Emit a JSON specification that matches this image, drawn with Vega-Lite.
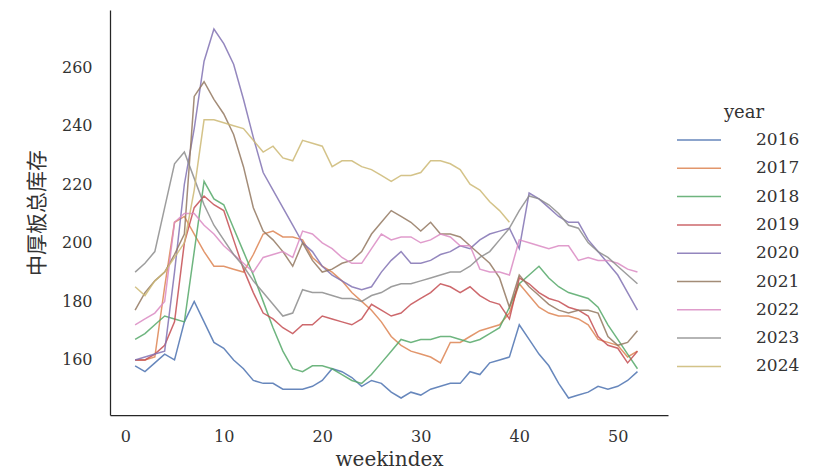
{
  "$schema": "https://vega.github.io/schema/vega-lite/v6.json",
  "width": 558,
  "height": 405,
  "autosize": {"type": "none"},
  "padding": {"left": 110, "top": 10, "right": 148, "bottom": 55},
  "background": "white",
  "config": {
    "view": {"stroke": null},
    "font": "DejaVu Serif",
    "axis": {
      "grid": false,
      "ticks": false,
      "domainColor": "#262626",
      "domainWidth": 1.25,
      "labelFont": "DejaVu Serif",
      "labelFontSize": 16,
      "labelColor": "#333333",
      "titleColor": "#333333",
      "titleFontWeight": "normal"
    },
    "legend": {
      "labelFont": "DejaVu Serif",
      "labelFontSize": 17,
      "labelColor": "#333333",
      "titleFont": "DejaVu Serif",
      "titleFontSize": 18,
      "titleFontWeight": "normal",
      "titleColor": "#333333"
    }
  },
  "data": {
    "values": [
      {"year":"2016","weekindex":1,"stock":158},{"year":"2016","weekindex":2,"stock":156},{"year":"2016","weekindex":3,"stock":159},{"year":"2016","weekindex":4,"stock":162},{"year":"2016","weekindex":5,"stock":160},{"year":"2016","weekindex":6,"stock":173},{"year":"2016","weekindex":7,"stock":180},{"year":"2016","weekindex":8,"stock":173},{"year":"2016","weekindex":9,"stock":166},{"year":"2016","weekindex":10,"stock":164},{"year":"2016","weekindex":11,"stock":160},{"year":"2016","weekindex":12,"stock":157},{"year":"2016","weekindex":13,"stock":153},{"year":"2016","weekindex":14,"stock":152},{"year":"2016","weekindex":15,"stock":152},{"year":"2016","weekindex":16,"stock":150},{"year":"2016","weekindex":17,"stock":150},{"year":"2016","weekindex":18,"stock":150},{"year":"2016","weekindex":19,"stock":151},{"year":"2016","weekindex":20,"stock":153},{"year":"2016","weekindex":21,"stock":157},{"year":"2016","weekindex":22,"stock":156},{"year":"2016","weekindex":23,"stock":154},{"year":"2016","weekindex":24,"stock":151},{"year":"2016","weekindex":25,"stock":153},{"year":"2016","weekindex":26,"stock":152},{"year":"2016","weekindex":27,"stock":149},{"year":"2016","weekindex":28,"stock":147},{"year":"2016","weekindex":29,"stock":149},{"year":"2016","weekindex":30,"stock":148},{"year":"2016","weekindex":31,"stock":150},{"year":"2016","weekindex":32,"stock":151},{"year":"2016","weekindex":33,"stock":152},{"year":"2016","weekindex":34,"stock":152},{"year":"2016","weekindex":35,"stock":156},{"year":"2016","weekindex":36,"stock":155},{"year":"2016","weekindex":37,"stock":159},{"year":"2016","weekindex":38,"stock":160},{"year":"2016","weekindex":39,"stock":161},{"year":"2016","weekindex":40,"stock":172},{"year":"2016","weekindex":41,"stock":167},{"year":"2016","weekindex":42,"stock":162},{"year":"2016","weekindex":43,"stock":158},{"year":"2016","weekindex":44,"stock":152},{"year":"2016","weekindex":45,"stock":147},{"year":"2016","weekindex":46,"stock":148},{"year":"2016","weekindex":47,"stock":149},{"year":"2016","weekindex":48,"stock":151},{"year":"2016","weekindex":49,"stock":150},{"year":"2016","weekindex":50,"stock":151},{"year":"2016","weekindex":51,"stock":153},{"year":"2016","weekindex":52,"stock":156},

      {"year":"2017","weekindex":1,"stock":160},{"year":"2017","weekindex":2,"stock":160},{"year":"2017","weekindex":3,"stock":161},{"year":"2017","weekindex":4,"stock":185},{"year":"2017","weekindex":5,"stock":207},{"year":"2017","weekindex":6,"stock":209},{"year":"2017","weekindex":7,"stock":203},{"year":"2017","weekindex":8,"stock":197},{"year":"2017","weekindex":9,"stock":192},{"year":"2017","weekindex":10,"stock":192},{"year":"2017","weekindex":11,"stock":191},{"year":"2017","weekindex":12,"stock":190},{"year":"2017","weekindex":13,"stock":196},{"year":"2017","weekindex":14,"stock":203},{"year":"2017","weekindex":15,"stock":204},{"year":"2017","weekindex":16,"stock":202},{"year":"2017","weekindex":17,"stock":202},{"year":"2017","weekindex":18,"stock":201},{"year":"2017","weekindex":19,"stock":195},{"year":"2017","weekindex":20,"stock":192},{"year":"2017","weekindex":21,"stock":190},{"year":"2017","weekindex":22,"stock":187},{"year":"2017","weekindex":23,"stock":183},{"year":"2017","weekindex":24,"stock":180},{"year":"2017","weekindex":25,"stock":177},{"year":"2017","weekindex":26,"stock":173},{"year":"2017","weekindex":27,"stock":168},{"year":"2017","weekindex":28,"stock":165},{"year":"2017","weekindex":29,"stock":163},{"year":"2017","weekindex":30,"stock":162},{"year":"2017","weekindex":31,"stock":161},{"year":"2017","weekindex":32,"stock":159},{"year":"2017","weekindex":33,"stock":166},{"year":"2017","weekindex":34,"stock":166},{"year":"2017","weekindex":35,"stock":168},{"year":"2017","weekindex":36,"stock":170},{"year":"2017","weekindex":37,"stock":171},{"year":"2017","weekindex":38,"stock":172},{"year":"2017","weekindex":39,"stock":176},{"year":"2017","weekindex":40,"stock":186},{"year":"2017","weekindex":41,"stock":182},{"year":"2017","weekindex":42,"stock":178},{"year":"2017","weekindex":43,"stock":176},{"year":"2017","weekindex":44,"stock":175},{"year":"2017","weekindex":45,"stock":175},{"year":"2017","weekindex":46,"stock":174},{"year":"2017","weekindex":47,"stock":172},{"year":"2017","weekindex":48,"stock":167},{"year":"2017","weekindex":49,"stock":166},{"year":"2017","weekindex":50,"stock":165},{"year":"2017","weekindex":51,"stock":161},{"year":"2017","weekindex":52,"stock":163},

      {"year":"2018","weekindex":1,"stock":167},{"year":"2018","weekindex":2,"stock":169},{"year":"2018","weekindex":3,"stock":172},{"year":"2018","weekindex":4,"stock":175},{"year":"2018","weekindex":5,"stock":174},{"year":"2018","weekindex":6,"stock":173},{"year":"2018","weekindex":7,"stock":197},{"year":"2018","weekindex":8,"stock":221},{"year":"2018","weekindex":9,"stock":215},{"year":"2018","weekindex":10,"stock":213},{"year":"2018","weekindex":11,"stock":205},{"year":"2018","weekindex":12,"stock":197},{"year":"2018","weekindex":13,"stock":189},{"year":"2018","weekindex":14,"stock":180},{"year":"2018","weekindex":15,"stock":171},{"year":"2018","weekindex":16,"stock":163},{"year":"2018","weekindex":17,"stock":157},{"year":"2018","weekindex":18,"stock":156},{"year":"2018","weekindex":19,"stock":158},{"year":"2018","weekindex":20,"stock":158},{"year":"2018","weekindex":21,"stock":157},{"year":"2018","weekindex":22,"stock":155},{"year":"2018","weekindex":23,"stock":153},{"year":"2018","weekindex":24,"stock":152},{"year":"2018","weekindex":25,"stock":155},{"year":"2018","weekindex":26,"stock":159},{"year":"2018","weekindex":27,"stock":163},{"year":"2018","weekindex":28,"stock":167},{"year":"2018","weekindex":29,"stock":166},{"year":"2018","weekindex":30,"stock":167},{"year":"2018","weekindex":31,"stock":167},{"year":"2018","weekindex":32,"stock":168},{"year":"2018","weekindex":33,"stock":168},{"year":"2018","weekindex":34,"stock":167},{"year":"2018","weekindex":35,"stock":166},{"year":"2018","weekindex":36,"stock":167},{"year":"2018","weekindex":37,"stock":169},{"year":"2018","weekindex":38,"stock":171},{"year":"2018","weekindex":39,"stock":178},{"year":"2018","weekindex":40,"stock":186},{"year":"2018","weekindex":41,"stock":189},{"year":"2018","weekindex":42,"stock":192},{"year":"2018","weekindex":43,"stock":188},{"year":"2018","weekindex":44,"stock":185},{"year":"2018","weekindex":45,"stock":183},{"year":"2018","weekindex":46,"stock":182},{"year":"2018","weekindex":47,"stock":181},{"year":"2018","weekindex":48,"stock":178},{"year":"2018","weekindex":49,"stock":172},{"year":"2018","weekindex":50,"stock":167},{"year":"2018","weekindex":51,"stock":162},{"year":"2018","weekindex":52,"stock":157},

      {"year":"2019","weekindex":1,"stock":160},{"year":"2019","weekindex":2,"stock":160},{"year":"2019","weekindex":3,"stock":162},{"year":"2019","weekindex":4,"stock":165},{"year":"2019","weekindex":5,"stock":173},{"year":"2019","weekindex":6,"stock":200},{"year":"2019","weekindex":7,"stock":212},{"year":"2019","weekindex":8,"stock":216},{"year":"2019","weekindex":9,"stock":213},{"year":"2019","weekindex":10,"stock":211},{"year":"2019","weekindex":11,"stock":201},{"year":"2019","weekindex":12,"stock":191},{"year":"2019","weekindex":13,"stock":183},{"year":"2019","weekindex":14,"stock":176},{"year":"2019","weekindex":15,"stock":174},{"year":"2019","weekindex":16,"stock":171},{"year":"2019","weekindex":17,"stock":169},{"year":"2019","weekindex":18,"stock":172},{"year":"2019","weekindex":19,"stock":172},{"year":"2019","weekindex":20,"stock":175},{"year":"2019","weekindex":21,"stock":174},{"year":"2019","weekindex":22,"stock":173},{"year":"2019","weekindex":23,"stock":172},{"year":"2019","weekindex":24,"stock":174},{"year":"2019","weekindex":25,"stock":179},{"year":"2019","weekindex":26,"stock":177},{"year":"2019","weekindex":27,"stock":175},{"year":"2019","weekindex":28,"stock":176},{"year":"2019","weekindex":29,"stock":179},{"year":"2019","weekindex":30,"stock":181},{"year":"2019","weekindex":31,"stock":183},{"year":"2019","weekindex":32,"stock":186},{"year":"2019","weekindex":33,"stock":185},{"year":"2019","weekindex":34,"stock":183},{"year":"2019","weekindex":35,"stock":185},{"year":"2019","weekindex":36,"stock":182},{"year":"2019","weekindex":37,"stock":180},{"year":"2019","weekindex":38,"stock":179},{"year":"2019","weekindex":39,"stock":174},{"year":"2019","weekindex":40,"stock":188},{"year":"2019","weekindex":41,"stock":186},{"year":"2019","weekindex":42,"stock":183},{"year":"2019","weekindex":43,"stock":181},{"year":"2019","weekindex":44,"stock":180},{"year":"2019","weekindex":45,"stock":178},{"year":"2019","weekindex":46,"stock":177},{"year":"2019","weekindex":47,"stock":175},{"year":"2019","weekindex":48,"stock":168},{"year":"2019","weekindex":49,"stock":165},{"year":"2019","weekindex":50,"stock":164},{"year":"2019","weekindex":51,"stock":159},{"year":"2019","weekindex":52,"stock":163},

      {"year":"2020","weekindex":1,"stock":160},{"year":"2020","weekindex":2,"stock":161},{"year":"2020","weekindex":3,"stock":162},{"year":"2020","weekindex":4,"stock":163},{"year":"2020","weekindex":5,"stock":190},{"year":"2020","weekindex":6,"stock":220},{"year":"2020","weekindex":7,"stock":239},{"year":"2020","weekindex":8,"stock":262},{"year":"2020","weekindex":9,"stock":273},{"year":"2020","weekindex":10,"stock":268},{"year":"2020","weekindex":11,"stock":261},{"year":"2020","weekindex":12,"stock":249},{"year":"2020","weekindex":13,"stock":236},{"year":"2020","weekindex":14,"stock":224},{"year":"2020","weekindex":15,"stock":218},{"year":"2020","weekindex":16,"stock":212},{"year":"2020","weekindex":17,"stock":206},{"year":"2020","weekindex":18,"stock":200},{"year":"2020","weekindex":19,"stock":197},{"year":"2020","weekindex":20,"stock":192},{"year":"2020","weekindex":21,"stock":189},{"year":"2020","weekindex":22,"stock":187},{"year":"2020","weekindex":23,"stock":185},{"year":"2020","weekindex":24,"stock":184},{"year":"2020","weekindex":25,"stock":185},{"year":"2020","weekindex":26,"stock":190},{"year":"2020","weekindex":27,"stock":194},{"year":"2020","weekindex":28,"stock":197},{"year":"2020","weekindex":29,"stock":193},{"year":"2020","weekindex":30,"stock":193},{"year":"2020","weekindex":31,"stock":194},{"year":"2020","weekindex":32,"stock":196},{"year":"2020","weekindex":33,"stock":197},{"year":"2020","weekindex":34,"stock":199},{"year":"2020","weekindex":35,"stock":198},{"year":"2020","weekindex":36,"stock":201},{"year":"2020","weekindex":37,"stock":203},{"year":"2020","weekindex":38,"stock":204},{"year":"2020","weekindex":39,"stock":205},{"year":"2020","weekindex":40,"stock":198},{"year":"2020","weekindex":41,"stock":217},{"year":"2020","weekindex":42,"stock":215},{"year":"2020","weekindex":43,"stock":212},{"year":"2020","weekindex":44,"stock":209},{"year":"2020","weekindex":45,"stock":207},{"year":"2020","weekindex":46,"stock":207},{"year":"2020","weekindex":47,"stock":201},{"year":"2020","weekindex":48,"stock":197},{"year":"2020","weekindex":49,"stock":193},{"year":"2020","weekindex":50,"stock":189},{"year":"2020","weekindex":51,"stock":183},{"year":"2020","weekindex":52,"stock":177},

      {"year":"2021","weekindex":1,"stock":177},{"year":"2021","weekindex":2,"stock":183},{"year":"2021","weekindex":3,"stock":187},{"year":"2021","weekindex":4,"stock":190},{"year":"2021","weekindex":5,"stock":196},{"year":"2021","weekindex":6,"stock":203},{"year":"2021","weekindex":7,"stock":250},{"year":"2021","weekindex":8,"stock":255},{"year":"2021","weekindex":9,"stock":249},{"year":"2021","weekindex":10,"stock":244},{"year":"2021","weekindex":11,"stock":237},{"year":"2021","weekindex":12,"stock":226},{"year":"2021","weekindex":13,"stock":212},{"year":"2021","weekindex":14,"stock":204},{"year":"2021","weekindex":15,"stock":201},{"year":"2021","weekindex":16,"stock":197},{"year":"2021","weekindex":17,"stock":192},{"year":"2021","weekindex":18,"stock":200},{"year":"2021","weekindex":19,"stock":194},{"year":"2021","weekindex":20,"stock":190},{"year":"2021","weekindex":21,"stock":191},{"year":"2021","weekindex":22,"stock":193},{"year":"2021","weekindex":23,"stock":194},{"year":"2021","weekindex":24,"stock":197},{"year":"2021","weekindex":25,"stock":203},{"year":"2021","weekindex":26,"stock":207},{"year":"2021","weekindex":27,"stock":211},{"year":"2021","weekindex":28,"stock":209},{"year":"2021","weekindex":29,"stock":207},{"year":"2021","weekindex":30,"stock":204},{"year":"2021","weekindex":31,"stock":207},{"year":"2021","weekindex":32,"stock":203},{"year":"2021","weekindex":33,"stock":203},{"year":"2021","weekindex":34,"stock":202},{"year":"2021","weekindex":35,"stock":199},{"year":"2021","weekindex":36,"stock":196},{"year":"2021","weekindex":37,"stock":193},{"year":"2021","weekindex":38,"stock":188},{"year":"2021","weekindex":39,"stock":178},{"year":"2021","weekindex":40,"stock":189},{"year":"2021","weekindex":41,"stock":185},{"year":"2021","weekindex":42,"stock":182},{"year":"2021","weekindex":43,"stock":179},{"year":"2021","weekindex":44,"stock":177},{"year":"2021","weekindex":45,"stock":176},{"year":"2021","weekindex":46,"stock":177},{"year":"2021","weekindex":47,"stock":177},{"year":"2021","weekindex":48,"stock":176},{"year":"2021","weekindex":49,"stock":168},{"year":"2021","weekindex":50,"stock":165},{"year":"2021","weekindex":51,"stock":166},{"year":"2021","weekindex":52,"stock":170},

      {"year":"2022","weekindex":1,"stock":172},{"year":"2022","weekindex":2,"stock":174},{"year":"2022","weekindex":3,"stock":176},{"year":"2022","weekindex":4,"stock":180},{"year":"2022","weekindex":5,"stock":207},{"year":"2022","weekindex":6,"stock":210},{"year":"2022","weekindex":7,"stock":210},{"year":"2022","weekindex":8,"stock":206},{"year":"2022","weekindex":9,"stock":203},{"year":"2022","weekindex":10,"stock":199},{"year":"2022","weekindex":11,"stock":196},{"year":"2022","weekindex":12,"stock":193},{"year":"2022","weekindex":13,"stock":190},{"year":"2022","weekindex":14,"stock":195},{"year":"2022","weekindex":15,"stock":196},{"year":"2022","weekindex":16,"stock":197},{"year":"2022","weekindex":17,"stock":195},{"year":"2022","weekindex":18,"stock":204},{"year":"2022","weekindex":19,"stock":203},{"year":"2022","weekindex":20,"stock":200},{"year":"2022","weekindex":21,"stock":198},{"year":"2022","weekindex":22,"stock":195},{"year":"2022","weekindex":23,"stock":193},{"year":"2022","weekindex":24,"stock":193},{"year":"2022","weekindex":25,"stock":198},{"year":"2022","weekindex":26,"stock":203},{"year":"2022","weekindex":27,"stock":201},{"year":"2022","weekindex":28,"stock":202},{"year":"2022","weekindex":29,"stock":202},{"year":"2022","weekindex":30,"stock":200},{"year":"2022","weekindex":31,"stock":201},{"year":"2022","weekindex":32,"stock":203},{"year":"2022","weekindex":33,"stock":202},{"year":"2022","weekindex":34,"stock":199},{"year":"2022","weekindex":35,"stock":199},{"year":"2022","weekindex":36,"stock":191},{"year":"2022","weekindex":37,"stock":190},{"year":"2022","weekindex":38,"stock":190},{"year":"2022","weekindex":39,"stock":189},{"year":"2022","weekindex":40,"stock":201},{"year":"2022","weekindex":41,"stock":200},{"year":"2022","weekindex":42,"stock":199},{"year":"2022","weekindex":43,"stock":198},{"year":"2022","weekindex":44,"stock":199},{"year":"2022","weekindex":45,"stock":199},{"year":"2022","weekindex":46,"stock":194},{"year":"2022","weekindex":47,"stock":195},{"year":"2022","weekindex":48,"stock":194},{"year":"2022","weekindex":49,"stock":194},{"year":"2022","weekindex":50,"stock":193},{"year":"2022","weekindex":51,"stock":191},{"year":"2022","weekindex":52,"stock":190},

      {"year":"2023","weekindex":1,"stock":190},{"year":"2023","weekindex":2,"stock":193},{"year":"2023","weekindex":3,"stock":197},{"year":"2023","weekindex":4,"stock":212},{"year":"2023","weekindex":5,"stock":227},{"year":"2023","weekindex":6,"stock":231},{"year":"2023","weekindex":7,"stock":222},{"year":"2023","weekindex":8,"stock":213},{"year":"2023","weekindex":9,"stock":206},{"year":"2023","weekindex":10,"stock":201},{"year":"2023","weekindex":11,"stock":196},{"year":"2023","weekindex":12,"stock":192},{"year":"2023","weekindex":13,"stock":187},{"year":"2023","weekindex":14,"stock":183},{"year":"2023","weekindex":15,"stock":179},{"year":"2023","weekindex":16,"stock":175},{"year":"2023","weekindex":17,"stock":176},{"year":"2023","weekindex":18,"stock":184},{"year":"2023","weekindex":19,"stock":183},{"year":"2023","weekindex":20,"stock":183},{"year":"2023","weekindex":21,"stock":182},{"year":"2023","weekindex":22,"stock":181},{"year":"2023","weekindex":23,"stock":181},{"year":"2023","weekindex":24,"stock":180},{"year":"2023","weekindex":25,"stock":182},{"year":"2023","weekindex":26,"stock":183},{"year":"2023","weekindex":27,"stock":185},{"year":"2023","weekindex":28,"stock":186},{"year":"2023","weekindex":29,"stock":186},{"year":"2023","weekindex":30,"stock":187},{"year":"2023","weekindex":31,"stock":188},{"year":"2023","weekindex":32,"stock":189},{"year":"2023","weekindex":33,"stock":190},{"year":"2023","weekindex":34,"stock":190},{"year":"2023","weekindex":35,"stock":192},{"year":"2023","weekindex":36,"stock":195},{"year":"2023","weekindex":37,"stock":197},{"year":"2023","weekindex":38,"stock":201},{"year":"2023","weekindex":39,"stock":205},{"year":"2023","weekindex":40,"stock":211},{"year":"2023","weekindex":41,"stock":216},{"year":"2023","weekindex":42,"stock":215},{"year":"2023","weekindex":43,"stock":213},{"year":"2023","weekindex":44,"stock":210},{"year":"2023","weekindex":45,"stock":206},{"year":"2023","weekindex":46,"stock":205},{"year":"2023","weekindex":47,"stock":200},{"year":"2023","weekindex":48,"stock":197},{"year":"2023","weekindex":49,"stock":195},{"year":"2023","weekindex":50,"stock":192},{"year":"2023","weekindex":51,"stock":189},{"year":"2023","weekindex":52,"stock":186},

      {"year":"2024","weekindex":1,"stock":185},{"year":"2024","weekindex":2,"stock":182},{"year":"2024","weekindex":3,"stock":187},{"year":"2024","weekindex":4,"stock":190},{"year":"2024","weekindex":5,"stock":195},{"year":"2024","weekindex":6,"stock":200},{"year":"2024","weekindex":7,"stock":218},{"year":"2024","weekindex":8,"stock":242},{"year":"2024","weekindex":9,"stock":242},{"year":"2024","weekindex":10,"stock":241},{"year":"2024","weekindex":11,"stock":240},{"year":"2024","weekindex":12,"stock":239},{"year":"2024","weekindex":13,"stock":235},{"year":"2024","weekindex":14,"stock":231},{"year":"2024","weekindex":15,"stock":233},{"year":"2024","weekindex":16,"stock":229},{"year":"2024","weekindex":17,"stock":228},{"year":"2024","weekindex":18,"stock":235},{"year":"2024","weekindex":19,"stock":234},{"year":"2024","weekindex":20,"stock":233},{"year":"2024","weekindex":21,"stock":226},{"year":"2024","weekindex":22,"stock":228},{"year":"2024","weekindex":23,"stock":228},{"year":"2024","weekindex":24,"stock":226},{"year":"2024","weekindex":25,"stock":225},{"year":"2024","weekindex":26,"stock":223},{"year":"2024","weekindex":27,"stock":221},{"year":"2024","weekindex":28,"stock":223},{"year":"2024","weekindex":29,"stock":223},{"year":"2024","weekindex":30,"stock":224},{"year":"2024","weekindex":31,"stock":228},{"year":"2024","weekindex":32,"stock":228},{"year":"2024","weekindex":33,"stock":227},{"year":"2024","weekindex":34,"stock":225},{"year":"2024","weekindex":35,"stock":220},{"year":"2024","weekindex":36,"stock":218},{"year":"2024","weekindex":37,"stock":214},{"year":"2024","weekindex":38,"stock":211},{"year":"2024","weekindex":39,"stock":207}
    ]
  },
  "mark": {"type": "line", "strokeWidth": 1.5, "opacity": 0.85},
  "encoding": {
    "x": {
      "field": "weekindex",
      "type": "quantitative",
      "scale": {"domain": [-1.55, 55.1], "nice": false, "zero": false},
      "axis": {"values": [0, 10, 20, 30, 40, 50], "labelPadding": 13, "title": "weekindex", "titleFont": "DejaVu Serif", "titleFontSize": 20, "titlePadding": 5}
    },
    "y": {
      "field": "stock",
      "type": "quantitative",
      "scale": {"domain": [141.2, 279.5], "nice": false, "zero": false},
      "axis": {"values": [160, 180, 200, 220, 240, 260], "labelPadding": 18, "title": "中厚板总库存", "titleFont": "Noto Sans CJK SC", "titleFontSize": 21, "titlePadding": 14}
    },
    "color": {
      "field": "year",
      "type": "nominal",
      "scale": {
        "domain": ["2016", "2017", "2018", "2019", "2020", "2021", "2022", "2023", "2024"],
        "range": ["#4C72B0", "#DD8452", "#55A868", "#C44E52", "#8172B3", "#937860", "#DA8BC3", "#8C8C8C", "#CCB974"]
      },
      "legend": {
        "title": "year",
        "orient": "none",
        "legendX": 578,
        "legendY": 94,
        "titleAnchor": "middle",
        "titlePadding": 7,
        "symbolType": "M-2.2,0H2.2",
        "symbolSize": 400,
        "symbolStrokeWidth": 1.5,
        "labelOffset": 46,
        "rowPadding": 9.3
      }
    }
  }
}
